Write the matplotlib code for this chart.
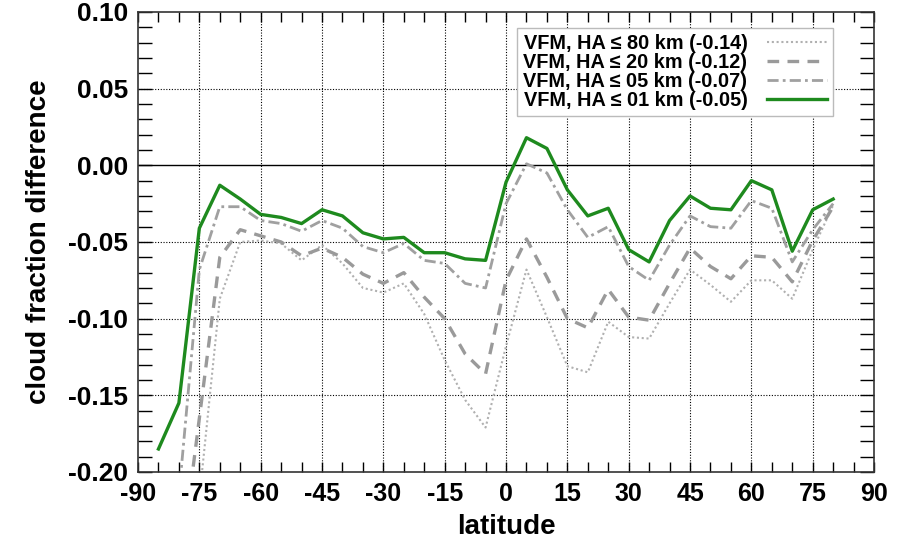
import numpy as np
import matplotlib.pyplot as plt
from matplotlib.ticker import MultipleLocator

plt.rcParams['font.family'] = ['Liberation Sans', 'DejaVu Sans']
plt.rcParams['font.weight'] = 'bold'
plt.rcParams['axes.unicode_minus'] = False

### ---- dados ---- ###
lat = [-85, -80, -75, -70, -65, -60, -55, -50, -45, -40, -35, -30, -25, -20, -15, -10, -5,
       0, 5, 10, 15, 20, 25, 30, 35, 40, 45, 50, 55, 60, 65, 70, 75, 80]

ha80 = [-0.35, -0.30, -0.217, -0.087, -0.050, -0.049, -0.051, -0.062, -0.052, -0.064, -0.080,
        -0.083, -0.077, -0.097, -0.127, -0.153, -0.171, -0.118, -0.068, -0.099, -0.131, -0.135,
        -0.102, -0.112, -0.113, -0.090, -0.068, -0.078, -0.089, -0.075, -0.075, -0.087, -0.055, -0.026]

ha20 = [-0.32, -0.27, -0.165, -0.060, -0.042, -0.046, -0.050, -0.059, -0.054, -0.060, -0.071,
        -0.077, -0.070, -0.086, -0.100, -0.123, -0.136, -0.075, -0.048, -0.073, -0.100, -0.106,
        -0.081, -0.099, -0.101, -0.077, -0.054, -0.066, -0.074, -0.059, -0.060, -0.076, -0.049, -0.027]

ha05 = [-0.25, -0.215, -0.068, -0.027, -0.027, -0.036, -0.038, -0.043, -0.036, -0.041, -0.053,
        -0.057, -0.051, -0.062, -0.064, -0.077, -0.080, -0.025, 0.001, -0.005, -0.029, -0.047,
        -0.040, -0.066, -0.075, -0.052, -0.033, -0.040, -0.041, -0.023, -0.028, -0.063, -0.042, -0.025]

ha01 = [-0.185, -0.155, -0.041, -0.013, -0.022, -0.032, -0.034, -0.038, -0.029, -0.033, -0.044,
        -0.048, -0.047, -0.057, -0.057, -0.061, -0.062, -0.011, 0.018, 0.011, -0.016, -0.033,
        -0.028, -0.055, -0.063, -0.036, -0.020, -0.028, -0.029, -0.010, -0.016, -0.056, -0.029, -0.022]

labels = ['VFM, HA ≤ 80 km (-0.14)', 'VFM, HA ≤ 20 km (-0.12)',
          'VFM, HA ≤ 05 km (-0.07)', 'VFM, HA ≤ 01 km (-0.05)']

xticks = [-90, -75, -60, -45, -30, -15, 0, 15, 30, 45, 60, 75, 90]
yticks = [-0.20, -0.15, -0.10, -0.05, 0.00, 0.05, 0.10]

fig = plt.figure(figsize=(9.08, 5.45), dpi=100)
ax = fig.add_axes([0.152, 0.134, 0.8106, 0.844])

# grade pontilhada + linha do zero
for xv in xticks[1:-1]:
    ax.axvline(xv, color='black', lw=0.8, ls=(0, (1, 1.5)), zorder=1)
for yv in yticks[1:-1]:
    if yv == 0:
        ax.axhline(yv, color='black', lw=1.0, zorder=1)
    else:
        ax.axhline(yv, color='black', lw=0.8, ls=(0, (1, 1.5)), zorder=1)

ax.plot(lat, ha80, color='#b0b0b0', lw=1.5, ls=(0, (1, 1.3)), label=labels[0], zorder=2)
ax.plot(lat, ha20, color='#9a9a9a', lw=2.4, ls=(0, (3.5, 2.5)), label=labels[1], zorder=2)
ax.plot(lat, ha05, color='#a0a0a0', lw=2.0, ls=(0, (4, 1.5, 1, 1.5)), label=labels[2], zorder=2)
ax.plot(lat, ha01, color='#1e8a1e', lw=2.4, label=labels[3], zorder=3)

ax.set_xlim(-90, 90)
ax.set_ylim(-0.20, 0.10)
ax.set_xticks(xticks)
ax.set_yticks(yticks)
ax.set_yticklabels(['%.2f' % v for v in yticks])
ax.xaxis.set_minor_locator(MultipleLocator(5))
ax.yaxis.set_minor_locator(MultipleLocator(0.01))
ax.tick_params(which='both', direction='in', top=True, right=True, width=1.0)
ax.tick_params(axis='y', which='both', length=10, labelsize=19)
ax.tick_params(axis='x', which='both', length=7, labelsize=18)
ax.tick_params(axis='both', pad=7)
for sp in ax.spines.values():
    sp.set_linewidth(1.2)
    sp.set_color('#333333')

ax.set_xlabel('latitude', fontsize=20, fontweight='bold', labelpad=6)
ax.set_ylabel('cloud fraction difference', fontsize=20, fontweight='bold', labelpad=12)

leg = ax.legend(loc='upper right', bbox_to_anchor=(0.944, 0.965), markerfirst=False,
                handlelength=3.0, labelspacing=0.0, borderpad=0.3,
                handletextpad=1.0, borderaxespad=0, fancybox=False, framealpha=1,
                prop={'weight': 'bold', 'size': 14.3})
leg.get_frame().set_edgecolor('#bbbbbb')
leg.get_frame().set_linewidth(1.0)

plt.savefig('out.png', dpi=100)
